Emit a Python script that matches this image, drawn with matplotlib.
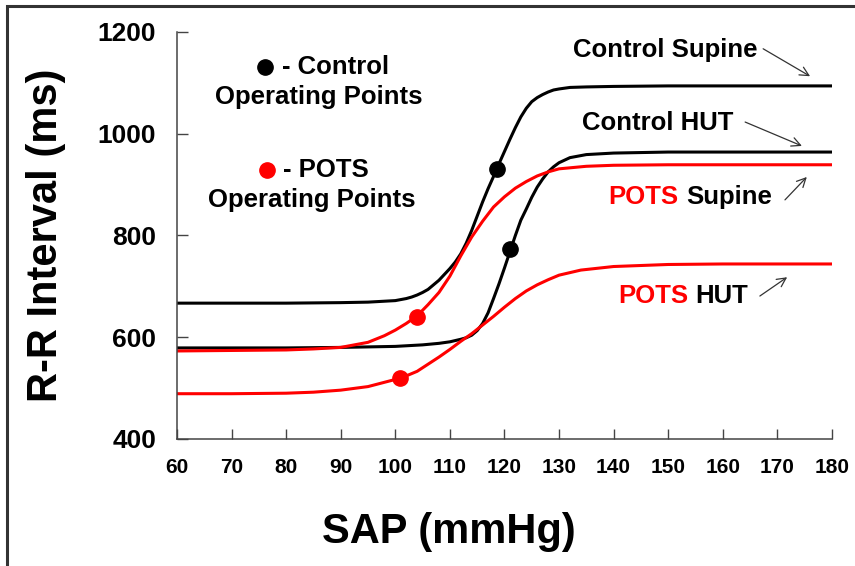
import matplotlib
matplotlib.use("Agg")
import matplotlib.pyplot as plt
from matplotlib.patches import Rectangle

plt.rcParams['font.family'] = ['Liberation Sans', 'DejaVu Sans']
plt.rcParams['font.weight'] = 'bold'

# ---- donnees ----
ctrl_sup_x = [60, 70, 80, 90, 95, 100, 102, 103, 104, 105, 106, 108, 110, 111, 112, 113, 114, 115, 116, 117, 118, 119, 120, 121, 122,
              123, 124, 125, 126, 127, 128, 129, 130, 132, 135, 140, 150, 160, 180]
ctrl_sup_y = [667, 667, 667, 668, 669, 672, 676, 679, 683, 688, 694, 712, 735, 748, 764, 785, 810, 838, 866, 892, 916, 941, 965, 989, 1012,
              1033, 1050, 1063, 1071, 1077, 1082, 1086, 1088, 1091, 1092, 1093, 1094, 1094, 1094]

ctrl_hut_x = [60, 80, 90, 100, 105, 108, 110, 112, 113, 114, 115, 116, 117, 118, 119, 120, 121, 122, 123, 124, 125, 126, 127, 128,
              129, 130, 132, 135, 140, 150, 180]
ctrl_hut_y = [579, 579, 580, 582, 585, 588, 591, 596, 599, 604, 613, 627, 648, 676, 705, 736, 768, 800, 830, 852, 875, 895, 911, 925,
              935, 943, 953, 959, 962, 964, 964]

pots_sup_x = [60, 70, 80, 85, 90, 95, 98, 100, 102, 104, 106, 108, 110, 112, 114, 116, 118, 120, 122, 124, 126, 128, 130, 135, 140, 150, 180]
pots_sup_y = [573, 574, 575, 577, 580, 590, 603, 614, 627, 642, 664, 688, 720, 760, 797, 828, 856, 876, 893, 906, 917, 925, 931, 936, 938, 939, 939]

pots_hut_x = [60, 70, 80, 85, 90, 95, 100, 102, 104, 106, 108, 110, 112, 114, 116, 118, 120, 122, 124, 126, 128, 130, 134, 140, 150, 160, 180]
pots_hut_y = [489, 489, 490, 492, 496, 503, 517, 524, 533, 547, 561, 576, 592, 607, 624, 641, 659, 676, 691, 703, 713, 722, 732, 739, 743, 744, 744]

# points de fonctionnement
ctrl_op_x = [118.7, 121.0]
ctrl_op_y = [930, 773]
pots_op_x = [104.0, 100.8]
pots_op_y = [640, 520]

x_ticks = [60, 70, 80, 90, 100, 110, 120, 130, 140, 150, 160, 170, 180]
y_ticks = [400, 600, 800, 1000, 1200]

RED = '#FF0000'

fig = plt.figure(figsize=(8.55, 5.66), dpi=100)
ax = fig.add_axes([0.207, 0.2244, 0.766, 0.7191])

ax.plot(ctrl_sup_x, ctrl_sup_y, color='black', lw=2.2)
ax.plot(ctrl_hut_x, ctrl_hut_y, color='black', lw=2.2)
ax.plot(pots_sup_x, pots_sup_y, color=RED, lw=2.2)
ax.plot(pots_hut_x, pots_hut_y, color=RED, lw=2.2)
ax.plot(ctrl_op_x, ctrl_op_y, 'o', color='black', ms=11, zorder=5)
ax.plot(pots_op_x, pots_op_y, 'o', color=RED, ms=11, zorder=5)

ax.set_xlim(60, 180)
ax.set_ylim(400, 1200)
ax.set_xticks(x_ticks)
ax.set_yticks(y_ticks)
ax.tick_params(axis='x', direction='in', length=7, width=1, color='#444444', labelsize=15, pad=14)
ax.tick_params(axis='y', direction='in', length=8, width=1, color='#444444', labelsize=19, pad=15)
for sp in ['top', 'right']:
    ax.spines[sp].set_visible(False)
for sp in ['left', 'bottom']:
    ax.spines[sp].set_color('#444444')
    ax.spines[sp].set_linewidth(1.1)

ax.set_xlabel('SAP (mmHg)', fontsize=30, fontweight='bold', labelpad=25, x=0.415)
ax.set_ylabel('R-R Interval (ms)', fontsize=30, fontweight='bold', labelpad=23)

# legende manuelle
ax.plot([76.1], [1131], 'o', color='black', ms=11, clip_on=False)
ax.text(79.2, 1131, '- Control', fontsize=18.5, fontweight='bold', ha='left', va='center')
ax.text(86.0, 1072, 'Operating Points', fontsize=18.5, fontweight='bold', ha='center', va='center')
ax.plot([76.5], [929], 'o', color=RED, ms=11, clip_on=False)
ax.text(79.4, 929, '- POTS', fontsize=18.5, fontweight='bold', ha='left', va='center')
ax.text(84.7, 870, 'Operating Points', fontsize=18.5, fontweight='bold', ha='center', va='center')

# etiquettes des courbes
fs = 18.5
ax.text(149.4, 1165, 'Control Supine', fontsize=fs, fontweight='bold', ha='center', va='center')
ax.text(148.0, 1021, 'Control HUT', fontsize=fs, fontweight='bold', ha='center', va='center')
ax.text(139.0, 876, 'POTS', fontsize=fs, fontweight='bold', color=RED, ha='left', va='center')
ax.text(153.3, 876, 'Supine', fontsize=fs, fontweight='bold', ha='left', va='center')
ax.text(140.8, 681, 'POTS', fontsize=fs, fontweight='bold', color=RED, ha='left', va='center')
ax.text(155.0, 681, 'HUT', fontsize=fs, fontweight='bold', ha='left', va='center')

arrows = [((167.4, 1167), (176.0, 1113)),
          ((164.1, 1023), (174.5, 976)),
          ((171.4, 870), (175.4, 915)),
          ((166.8, 681), (171.8, 718))]
for tail, head in arrows:
    ax.annotate('', xy=head, xytext=tail,
                arrowprops=dict(arrowstyle='->', color='#333333', lw=0.9,
                                mutation_scale=16, shrinkA=0, shrinkB=0))

# cadre exterieur
fig.patches.append(Rectangle((7 / 855, -0.05), 1.1, 1 - 6 / 566 + 0.05,
                             transform=fig.transFigure, fill=False,
                             edgecolor='#333333', lw=2.2))

fig.savefig('out.png', dpi=100)
